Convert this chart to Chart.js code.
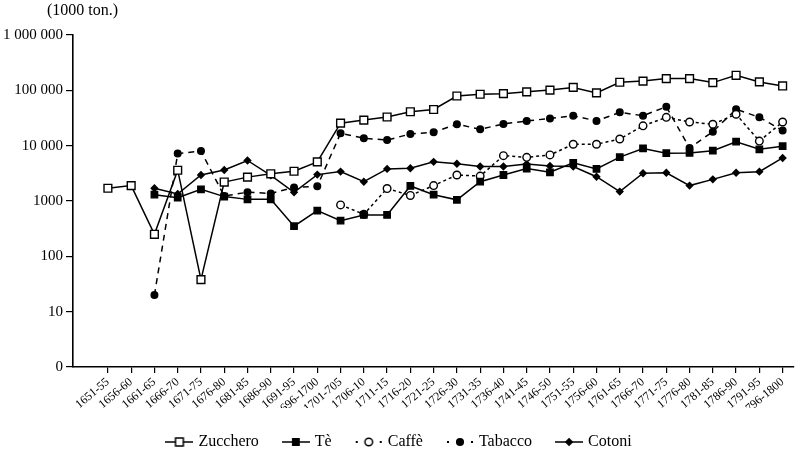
<!DOCTYPE html>
<html>
<head>
<meta charset="utf-8">
<script src="https://cdn.jsdelivr.net/npm/chart.js@4.4.1/dist/chart.umd.min.js"></script>
<style>
  body { margin: 0; background: #fff; }
  #wrap { position: relative; width: 800px; height: 451px; }
  #unit { position: absolute; left: 47px; top: 1px; font: 16px "Liberation Serif", serif; color: #000; }
</style>
</head>
<body>
<div id="wrap">
  <div id="unit">(1000 ton.)</div>
  <canvas id="chart" width="800" height="451"></canvas>
</div>
<script>
// periodi di cinque anni
const periods = ['1651-55', '1656-60', '1661-65', '1666-70', '1671-75', '1676-80', '1681-85', '1686-90',
  '1691-95', '1696-1700', '1701-705', '1706-10', '1711-15', '1716-20', '1721-25', '1726-30', '1731-35',
  '1736-40', '1741-45', '1746-50', '1751-55', '1756-60', '1761-65', '1766-70', '1771-75', '1776-80',
  '1781-85', '1786-90', '1791-95', '1796-1800'];

const zucchero = [1700, 1900, 250, 3600, 38, 2200, 2700, 3100, 3450, 5100, 25500, 29000, 33000, 41000, 45000,
  79000, 85000, 87000, 94000, 101000, 113000, 90000, 140000, 147000, 163000, 163000, 138000, 187000, 142000, 120000];
const te = [null, null, 1300, 1150, 1630, 1200, 1070, 1070, 350, 670, 440, 560, 560, 1870, 1300,
  1050, 2230, 2950, 3850, 3300, 4900, 3800, 6200, 8900, 7300, 7400, 8100, 11800, 8600, 9800];
const caffe = [null, null, null, null, null, null, null, null, null, null, 850, 575, 1680, 1260, 1900,
  2950, 2820, 6600, 6150, 6800, 10600, 10600, 13200, 22800, 32500, 26800, 24400, 37000, 12100, 26800];
const tabacco = [null, null, 20, 7200, 8000, 1230, 1440, 1370, 1750, 1850, 16700, 13600, 12600, 16300, 17500,
  24400, 19800, 24700, 28000, 31000, 34800, 28000, 40000, 34800, 50600, 9100, 17900, 45500, 32600, 18700];
const cotoni = [null, null, 1700, 1340, 2950, 3630, 5400, 2900, 1440, 3000, 3400, 2230, 3800, 3900, 5100,
  4700, 4200, 4200, 4650, 4300, 4200, 2750, 1480, 3170, 3240, 1900, 2460, 3240, 3390, 6000];

const yTicks = [1, 10, 100, 1000, 10000, 100000, 1000000];
const yTickLabels = ['0', '10', '100', '1000', '10 000', '100 000', '1 000 000'];

const serif = '"Liberation Serif", serif';

function toPoints(values) {
  return values.map((v, i) => ({ x: i, y: v }));
}

// piccola icona per la legenda: linea + simbolo
function makeIcon(style, fill, dashed, r) {
  const c = document.createElement('canvas');
  c.width = 28; c.height = 14;
  const g = c.getContext('2d');
  g.strokeStyle = '#000';
  g.fillStyle = '#000';
  g.lineWidth = 1.5;
  if (dashed) {
    g.fillRect(1, 6, 2, 2);
    g.fillRect(25, 6, 2, 2);
  } else {
    g.beginPath(); g.moveTo(0, 7); g.lineTo(28, 7); g.stroke();
  }
  g.beginPath();
  if (style === 'rect') {
    const s = r * Math.SQRT1_2;
    g.rect(14 - s, 7 - s, 2 * s, 2 * s);
  } else if (style === 'circle') {
    g.arc(14, 7, r, 0, Math.PI * 2);
  } else {
    g.moveTo(14, 7 - r); g.lineTo(14 + r, 7); g.lineTo(14, 7 + r); g.lineTo(14 - r, 7); g.closePath();
  }
  g.fillStyle = fill;
  g.fill();
  g.stroke();
  return c;
}

const icons = [
  makeIcon('rect', '#fff', false, 5.5),
  makeIcon('rect', '#000', false, 4.5),
  makeIcon('circle', '#fff', true, 3.8),
  makeIcon('circle', '#000', true, 3.3),
  makeIcon('diamond', '#000', false, 3.2)
];

function series(label, values, pointStyle, fill, radius, dash) {
  return {
    label: label,
    data: toPoints(values),
    borderColor: '#000',
    borderWidth: 1.5,
    borderDash: dash,
    backgroundColor: fill,
    pointStyle: pointStyle,
    pointRadius: radius,
    pointBackgroundColor: fill,
    pointBorderColor: '#000',
    pointBorderWidth: 1.4,
    tension: 0,
    spanGaps: false
  };
}

new Chart(document.getElementById('chart'), {
  type: 'line',
  data: {
    datasets: [
      series('Zucchero', zucchero, 'rect', '#fff', 5.5, []),
      series('Tè', te, 'rect', '#000', 4.5, []),
      series('Caffè', caffe, 'circle', '#fff', 3.8, [3, 3]),
      series('Tabacco', tabacco, 'circle', '#000', 3.3, [6, 5]),
      series('Cotoni', cotoni, 'rectRot', '#000', 3.2, [])
    ]
  },
  options: {
    responsive: false,
    animation: false,
    layout: { padding: { top: 35, right: 0, left: 0, bottom: -9 } },
    plugins: {
      tooltip: { enabled: false },
      legend: {
        position: 'bottom',
        labels: {
          color: '#000',
          font: { family: serif, size: 16 },
          usePointStyle: true,
          pointStyleWidth: 22,
          padding: 26,
          generateLabels: chart => Chart.defaults.plugins.legend.labels.generateLabels(chart)
            .map((item, i) => Object.assign(item, { pointStyle: icons[i] }))
        }
      }
    },
    scales: {
      x: {
        type: 'linear',
        min: -1.5,
        max: 29.45,
        afterBuildTicks: s => { s.ticks = periods.map((p, i) => ({ value: i })); },
        afterFit: s => { s.height = 41; },
        ticks: {
          callback: v => periods[v],
          autoSkip: false,
          minRotation: 40,
          maxRotation: 40,
          padding: 2,
          color: '#000',
          font: { family: serif, size: 12 }
        },
        grid: { drawOnChartArea: false, tickLength: 6, color: '#000', lineWidth: 1.2 },
        border: { color: '#000', width: 1.6 }
      },
      y: {
        type: 'logarithmic',
        min: 1,
        max: 1000000,
        afterBuildTicks: s => { s.ticks = yTicks.map(v => ({ value: v })); },
        afterFit: s => { s.width = 73; },
        ticks: {
          callback: (v, i) => yTickLabels[i],
          padding: 3,
          color: '#000',
          font: { family: serif, size: 15 }
        },
        grid: { drawOnChartArea: false, tickLength: 7, color: '#000', lineWidth: 1.2 },
        border: { color: '#000', width: 1.6 }
      }
    }
  }
});
</script>
</body>
</html>
